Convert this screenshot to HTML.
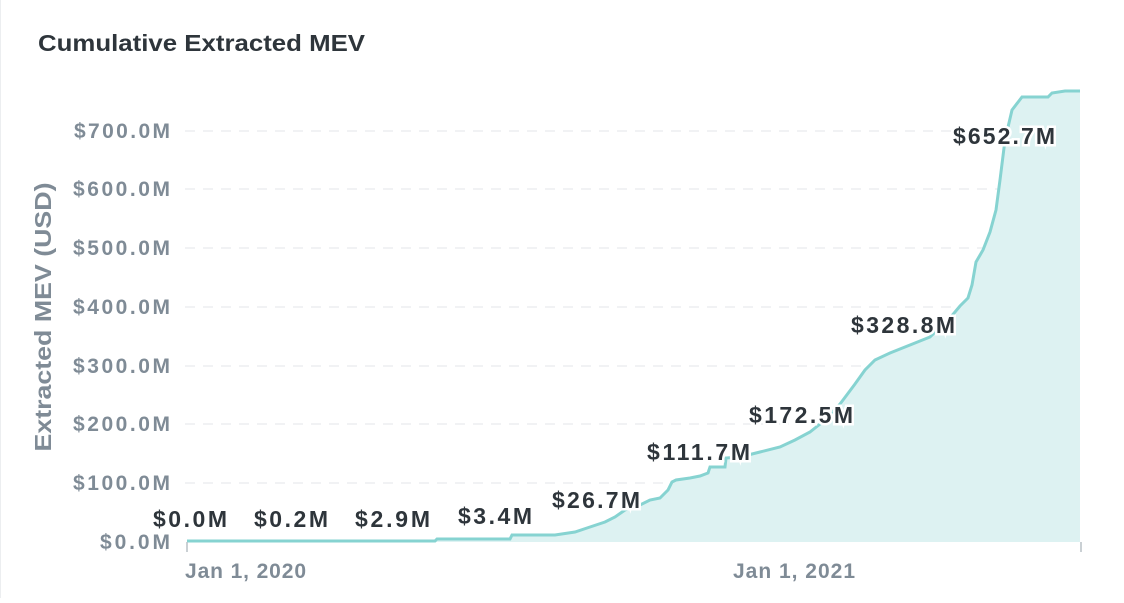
<!DOCTYPE html>
<html><head><style>
body{margin:0;background:#fff;width:1124px;height:598px;overflow:hidden;font-family:"Liberation Sans",sans-serif}
</style></head><body>
<svg width="1124" height="598" xmlns="http://www.w3.org/2000/svg" font-family="Liberation Sans, sans-serif">
<rect x="0" y="0" width="1124" height="598" fill="#fff"/>
<rect x="0.5" y="-10" width="1200" height="620" rx="8" fill="none" stroke="#eceef0"/>
<text x="38" y="51" font-size="23" fill="#2e353b" font-weight="bold" textLength="327" lengthAdjust="spacingAndGlyphs">Cumulative Extracted MEV</text>
<g stroke="#e3e6e8" stroke-dasharray="10,8" stroke-width="1">
<line x1="185" y1="483" x2="1080" y2="483"/><line x1="185" y1="424" x2="1080" y2="424"/>
<line x1="185" y1="366" x2="1080" y2="366"/><line x1="185" y1="307" x2="1080" y2="307"/>
<line x1="185" y1="248" x2="1080" y2="248"/><line x1="185" y1="189" x2="1080" y2="189"/>
<line x1="185" y1="131" x2="1080" y2="131"/>
</g>
<g font-size="21" font-weight="bold" fill="#7f8b96" text-anchor="end" lengthAdjust="spacingAndGlyphs">
<text x="170" y="549" textLength="70">$0.0M</text><text x="170" y="490" textLength="97">$100.0M</text><text x="170" y="431" textLength="97">$200.0M</text>
<text x="170" y="373" textLength="97">$300.0M</text><text x="170" y="314" textLength="97">$400.0M</text><text x="170" y="255" textLength="97">$500.0M</text>
<text x="170" y="196" textLength="97">$600.0M</text><text x="170" y="138" textLength="96">$700.0M</text>
</g>
<text transform="translate(51,317) rotate(-90)" font-size="23" font-weight="bold" fill="#7f8b96" text-anchor="middle" textLength="269" lengthAdjust="spacingAndGlyphs">Extracted MEV (USD)</text>
<polygon fill="#ddf2f2" points="187,541 435,541 437,539 510,539 512,535 555,535 575,532 590,527 605,522 615,517 625,510 640,505 650,500 660,498 668,490 672,482 676,480 690,478 700,476 708,473 710,467 725,467 726,458 740,457 748,455 760,452 780,447 795,440 810,432 825,420 840,404 855,384 865,370 875,360 890,353 910,345 930,337 950,318 960,306 968,298 972,285 976,262 983,250 990,232 996,210 1000,180 1005,140 1012,110 1022,97 1048,97 1052,93 1065,91 1080,91 1080,542 187,542"/>
<polyline fill="none" stroke="#86d3d1" stroke-width="3" points="187,541 435,541 437,539 510,539 512,535 555,535 575,532 590,527 605,522 615,517 625,510 640,505 650,500 660,498 668,490 672,482 676,480 690,478 700,476 708,473 710,467 725,467 726,458 740,457 748,455 760,452 780,447 795,440 810,432 825,420 840,404 855,384 865,370 875,360 890,353 910,345 930,337 950,318 960,306 968,298 972,285 976,262 983,250 990,232 996,210 1000,180 1005,140 1012,110 1022,97 1048,97 1052,93 1065,91 1080,91"/>
<line x1="187" y1="542" x2="187" y2="552" stroke="#b8c0c6" stroke-width="1.5"/>
<line x1="1081" y1="542" x2="1081" y2="552" stroke="#b8c0c6" stroke-width="1.5"/>
<g font-size="21" font-weight="bold" fill="#7f8b96" lengthAdjust="spacingAndGlyphs">
<text x="185" y="578" textLength="121">Jan 1, 2020</text><text x="733" y="578" textLength="122">Jan 1, 2021</text>
</g>
<g font-size="23" font-weight="bold" fill="#2e353b" stroke="#fff" stroke-width="5" paint-order="stroke" lengthAdjust="spacingAndGlyphs">
<text x="153" y="527" textLength="74">$0.0M</text><text x="254" y="527" textLength="74">$0.2M</text><text x="355" y="527" textLength="75">$2.9M</text>
<text x="458" y="524" textLength="74">$3.4M</text><text x="552" y="508" textLength="88">$26.7M</text><text x="647" y="460" textLength="103">$111.7M</text>
<text x="749" y="423" textLength="104">$172.5M</text><text x="851" y="333" textLength="104">$328.8M</text><text x="953" y="144" textLength="102">$652.7M</text>
</g>
</svg>
</body></html>
